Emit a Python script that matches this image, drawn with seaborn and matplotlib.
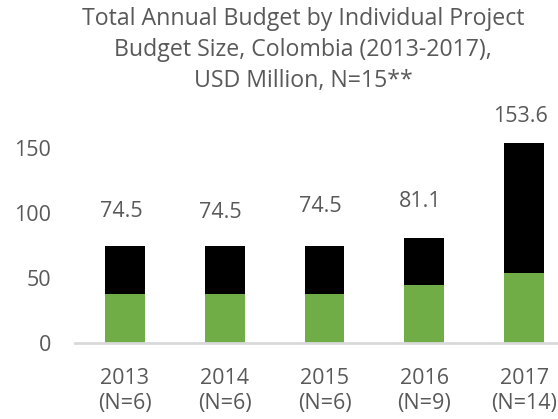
import matplotlib
matplotlib.use("Agg")
import matplotlib.pyplot as plt
import seaborn as sns
import pandas as pd

years = ["2013", "2014", "2015", "2016", "2017"]
n_counts = [6, 6, 6, 9, 14]
totals = [74.5, 74.5, 74.5, 81.1, 153.6]
green_part = [37.6, 37.6, 37.6, 44.3, 53.8]
yticks = [0, 50, 100, 150]
title = "Total Annual Budget by Individual Project\nBudget Size, Colombia (2013-2017),\nUSD Million, N=15**"

sns.set_theme(style="white")
plt.rcParams["font.family"] = ["Open Sans", "DejaVu Sans"]

labels = [f"{y}\n(N={n})" for y, n in zip(years, n_counts)]
df = pd.DataFrame({"label": labels, "total": totals, "green": green_part})

TEXT = "#595959"
fig = plt.figure(figsize=(5.58, 4.19), dpi=100)
ax = fig.add_axes([75 / 558, 76 / 419, 1 - 75 / 558, 208 / 419])

sns.barplot(data=df, x="label", y="total", color="#000000", width=0.4,
            saturation=1, ax=ax, linewidth=0)
sns.barplot(data=df, x="label", y="green", color="#70AD47", width=0.4,
            saturation=1, ax=ax, linewidth=0)

ax.set_xlim(-0.5, 4.34)
ax.set_ylim(0, 160)
ax.set_yticks(yticks)
ax.set_yticklabels([str(t) for t in yticks])
ax.set_xlabel("")
ax.set_ylabel("")
for s in ["top", "right", "left"]:
    ax.spines[s].set_visible(False)
ax.spines["bottom"].set_color("#D9D9D9")
ax.spines["bottom"].set_linewidth(2)
ax.tick_params(axis="y", length=0, pad=17, labelsize=15.5, labelcolor=TEXT)
ax.tick_params(axis="x", length=0, pad=18, labelsize=15.5, labelcolor=TEXT)
for t in ax.get_xticklabels():
    t.set_linespacing(1.28)

label_offsets = [35, 34, 40, 36, 27]
for i, (tot, off) in enumerate(zip(totals, label_offsets)):
    ax.annotate(f"{tot:.1f}", xy=(i - 0.04, tot), xytext=(0, off),
                textcoords="offset pixels", ha="center", va="center",
                fontsize=15.5, color=TEXT)

fig.text(303 / 558, 1 - 7 / 419, title, ha="center", va="top",
         fontsize=16.7, color=TEXT, linespacing=1.38)

fig.savefig("out.png", dpi=100)
